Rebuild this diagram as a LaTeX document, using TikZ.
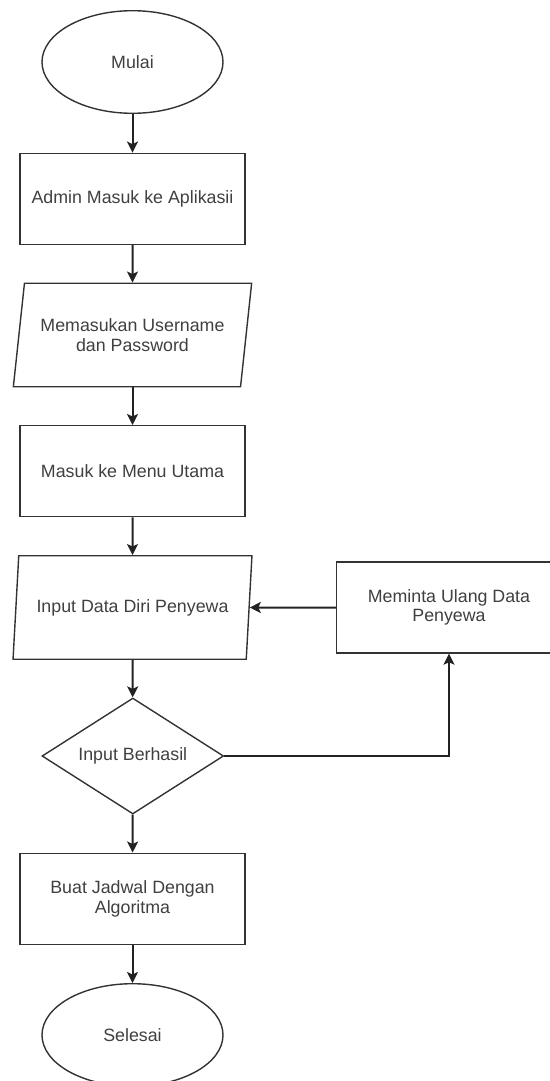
\documentclass[tikz,border=0pt]{standalone}
\usepackage{fontspec}
\setmainfont{Liberation Sans}
\usetikzlibrary{shapes.geometric,arrows.meta}
\definecolor{linec}{HTML}{333333}
\definecolor{arrc}{HTML}{222222}
\definecolor{txtc}{HTML}{404040}
\begin{document}
\begin{tikzpicture}[x=1pt,y=-1pt,
  base/.style={draw=linec,line width=1.4pt,fill=white,inner sep=0pt,
    text=txtc,align=center,font=\fontsize{17.8}{19.5}\selectfont},
  term/.style={base,ellipse,minimum width=181pt,minimum height=102.6pt},
  procbox/.style={base,rectangle,minimum width=225pt,minimum height=91pt},
  iobox/.style={base,trapezium,trapezium left angle=73.8,trapezium right angle=106.2,
    trapezium stretches=true,minimum width=239pt,minimum height=103.5pt},
  decbox/.style={base,diamond,aspect=1.566,minimum width=181.6pt,minimum height=116pt},
  arr/.style={draw=arrc,line width=2pt,-{Stealth[length=11pt,width=11pt,inset=2.5pt]}}]
\useasboundingbox (0,0) rectangle (549,1081);
\node[term] (mulai) at (132.5,62) {Mulai};
\node[procbox] (admin) at (132.5,198.8) {Admin Masuk ke Aplikasii};
\node[iobox] (login) at (132.5,335) {Memasukan Username\\dan Password};
\node[procbox] (menu) at (132.5,471.2) {Masuk ke Menu Utama};
\node[iobox] (input) at (132.5,607.5) {Input Data Diri Penyewa};
\node[procbox] (ulang) at (449,607.5) {Meminta Ulang Data\\Penyewa};
\node[decbox] (cek) at (132.8,756) {Input Berhasil};
\node[procbox] (jadwal) at (132.5,898.7) {Buat Jadwal Dengan\\Algoritma};
\node[term] (selesai) at (132.5,1035) {Selesai};
\draw[arr] (mulai) -- (admin);
\draw[arr] (admin) -- (login);
\draw[arr] (login) -- (menu);
\draw[arr] (menu) -- (input);
\draw[arr] (input) -- (cek);
\draw[arr] (cek.east) -| (ulang.south);
\draw[arr] (ulang.west) -- (input.east);
\draw[arr] (cek) -- (jadwal);
\draw[arr] (jadwal) -- (selesai);
\end{tikzpicture}
\end{document}
